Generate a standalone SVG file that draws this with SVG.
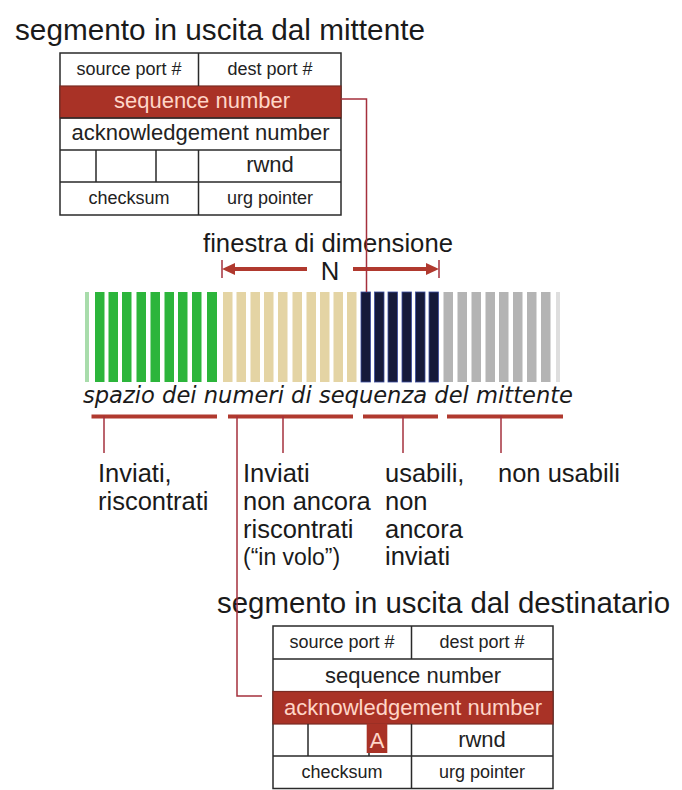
<svg xmlns="http://www.w3.org/2000/svg" width="682" height="790" viewBox="0 0 682 790">
<defs>
<style>
.title{font-family:"Liberation Sans",Arial,sans-serif;font-size:29.5px;fill:#1a1a1a}
.cell{fill:#fff;stroke:#2a2a2a;stroke-width:1.5}
.grid{stroke:#2a2a2a;stroke-width:1.5;fill:none}
.hl{fill:#a93226;stroke:#7a2a22;stroke-width:1.2}
.t-sm{font-family:"Liberation Sans",Arial,sans-serif;font-size:18px;fill:#222;text-anchor:middle}
.t-md{font-family:"Liberation Sans",Arial,sans-serif;font-size:22px;fill:#222;text-anchor:middle}
.t-hl{fill:#ffd6c8}
.lbl{font-family:"Liberation Sans",Arial,sans-serif;font-size:25.5px;fill:#1a1a1a}
.lbl-sm{font-family:"Liberation Sans",Arial,sans-serif;font-size:23px;fill:#1a1a1a}
.win{font-family:"Liberation Sans",Arial,sans-serif;font-size:25.7px;fill:#1a1a1a}
.axis{font-family:"DejaVu Sans",Verdana,sans-serif;font-style:italic;font-size:22.6px;fill:#1a1a1a}
.g{fill:#2cb53b}
.b{fill:#e4d4a4}
.n{fill:#161a3a;stroke:#3b4c9e;stroke-width:0.8}
.y{fill:#b4b4b4}
.ul{stroke:#b0392e;stroke-width:4;fill:none}
.tick{stroke:#a5303c;stroke-width:1.5;fill:none}
.conn{stroke:#a5303c;stroke-width:1.5;fill:none}
.arr{stroke:#b0392e;stroke-width:4;fill:none}
</style>
<marker id="ah" markerUnits="userSpaceOnUse" markerWidth="14" markerHeight="12" refX="3" refY="6" orient="auto">
<path d="M0,0 L13,6 L0,12 z" fill="#b0392e"/>
</marker>
</defs>
<rect width="682" height="790" fill="#fff"/>

<g id="title-sender">
<text class="title" x="15" y="40" textLength="410" lengthAdjust="spacingAndGlyphs">segmento in uscita dal mittente</text>
</g>

<g id="table-sender">
<rect class="cell" x="60" y="53" width="281" height="162"/>
<rect class="hl" x="60" y="86" width="281" height="32"/>
<path class="grid" d="M60,118H341M60,150H341M60,182H341M198.5,53V86M198.5,150V215M96,150V182M156,150V182"/>
<text class="t-sm" x="129" y="75">source port #</text>
<text class="t-sm" x="270" y="75">dest port #</text>
<text class="t-md t-hl" x="202" y="108">sequence number</text>
<text class="t-md" x="200.5" y="140">acknowledgement number</text>
<text class="t-md" x="270" y="172">rwnd</text>
<text class="t-sm" x="129" y="204">checksum</text>
<text class="t-sm" x="270" y="204">urg pointer</text>
</g>

<g id="window">
<text class="win" x="203" y="252" textLength="250" lengthAdjust="spacingAndGlyphs">finestra di dimensione</text>
<text class="win" x="330" y="280" text-anchor="middle" font-size="24">N</text>
<line class="arr" x1="307" y1="269" x2="232" y2="269" marker-end="url(#ah)"/>
<line class="arr" x1="353" y1="269" x2="429" y2="269" marker-end="url(#ah)"/>
<line class="tick" x1="222" y1="260" x2="222" y2="278"/>
<line class="tick" x1="439" y1="260" x2="439" y2="278"/>
</g>

<g id="sequence-bar">
<rect x="85" y="292" width="4" height="90" fill="#a8dcab"/>
<rect class="g" x="95" y="292" width="9.5" height="90"/>
<rect class="g" x="108.5" y="292" width="9.5" height="90"/>
<rect class="g" x="122" y="292" width="9.5" height="90"/>
<rect class="g" x="136.5" y="292" width="9.5" height="90"/>
<rect class="g" x="150.5" y="292" width="9.5" height="90"/>
<rect class="g" x="164.5" y="292" width="9.5" height="90"/>
<rect class="g" x="178" y="292" width="9.5" height="90"/>
<rect class="g" x="192" y="292" width="9.5" height="90"/>
<rect class="g" x="207" y="292" width="10" height="90"/>
<rect class="b" x="223" y="292" width="9.5" height="90"/>
<rect class="b" x="236.5" y="292" width="9.5" height="90"/>
<rect class="b" x="250.5" y="292" width="9.5" height="90"/>
<rect class="b" x="264" y="292" width="9.5" height="90"/>
<rect class="b" x="278" y="292" width="9.5" height="90"/>
<rect class="b" x="292.5" y="292" width="9.5" height="90"/>
<rect class="b" x="306.5" y="292" width="9.5" height="90"/>
<rect class="b" x="320" y="292" width="9.5" height="90"/>
<rect class="b" x="333.5" y="292" width="9.5" height="90"/>
<rect class="b" x="347" y="292" width="9.5" height="90"/>
<rect class="n" x="361" y="292" width="9.5" height="90"/>
<rect class="n" x="374.5" y="292" width="9.5" height="90"/>
<rect class="n" x="388" y="292" width="9.5" height="90"/>
<rect class="n" x="402" y="292" width="9.5" height="90"/>
<rect class="n" x="415.5" y="292" width="9.5" height="90"/>
<rect class="n" x="429" y="292" width="9.5" height="90"/>
<rect class="y" x="443.5" y="292" width="9.5" height="90"/>
<rect class="y" x="457.5" y="292" width="9.5" height="90"/>
<rect class="y" x="471.5" y="292" width="9.5" height="90"/>
<rect class="y" x="485.5" y="292" width="9.5" height="90"/>
<rect class="y" x="499" y="292" width="9.5" height="90"/>
<rect class="y" x="513" y="292" width="9.5" height="90"/>
<rect class="y" x="527" y="292" width="9.5" height="90"/>
<rect class="y" x="541" y="292" width="9.5" height="90"/>
<rect x="556" y="292" width="4" height="90" fill="#dedede"/>
</g>

<g id="axis-label">
<text class="axis" x="83" y="403" textLength="490" lengthAdjust="spacingAndGlyphs">spazio dei numeri di sequenza del mittente</text>
</g>

<g id="ranges">
<line class="ul" x1="91.5" y1="416.5" x2="217" y2="416.5"/>
<line class="ul" x1="228" y1="416.5" x2="353" y2="416.5"/>
<line class="ul" x1="363" y1="416.5" x2="438" y2="416.5"/>
<line class="ul" x1="447" y1="416.5" x2="563" y2="416.5"/>
<line class="tick" x1="104" y1="416" x2="104" y2="453"/>
<line class="tick" x1="283" y1="416" x2="283" y2="453"/>
<line class="tick" x1="403" y1="416" x2="403" y2="453"/>
<line class="tick" x1="501" y1="416" x2="501" y2="453"/>
</g>

<g id="label-acked">
<text class="lbl" x="98" y="482">Inviati,</text>
<text class="lbl" x="98" y="509.5">riscontrati</text>
</g>
<g id="label-inflight">
<text class="lbl" x="243" y="482">Inviati</text>
<text class="lbl" x="243" y="509.5">non ancora</text>
<text class="lbl" x="243" y="537.5">riscontrati</text>
<text class="lbl-sm" x="243" y="564.5">(“in volo”)</text>
</g>
<g id="label-usable">
<text class="lbl" x="385" y="482">usabili,</text>
<text class="lbl" x="385" y="509.5">non</text>
<text class="lbl" x="385" y="537.5">ancora</text>
<text class="lbl" x="385" y="565">inviati</text>
</g>
<g id="label-unusable">
<text class="lbl" x="498" y="482">non usabili</text>
</g>

<g id="title-receiver">
<text class="title" x="217" y="613" textLength="453" lengthAdjust="spacingAndGlyphs">segmento in uscita dal destinatario</text>
</g>

<g id="table-receiver">
<rect class="cell" x="273" y="626" width="280" height="162.5"/>
<rect class="hl" x="273" y="691.5" width="280" height="32.5"/>
<path class="grid" d="M273,659H553M273,756H553M411.5,626V659M411.5,724V788.5M308,724V756M369,724V756"/>
<rect x="366.7" y="723.5" width="20.6" height="29.5" fill="#a93226"/>
<text class="t-md t-hl" x="377" y="748" font-size="24">A</text>
<text class="t-sm" x="342" y="648">source port #</text>
<text class="t-sm" x="482" y="648">dest port #</text>
<text class="t-md" x="413" y="683">sequence number</text>
<text class="t-md t-hl" x="413" y="715">acknowledgement number</text>
<text class="t-md" x="482" y="746.5">rwnd</text>
<text class="t-sm" x="342" y="778">checksum</text>
<text class="t-sm" x="482" y="778">urg pointer</text>
</g>

<g id="connectors">
<path class="conn" d="M341,99H366.5V292"/>
<path class="conn" d="M237,416V696H262"/>
</g>
</svg>
